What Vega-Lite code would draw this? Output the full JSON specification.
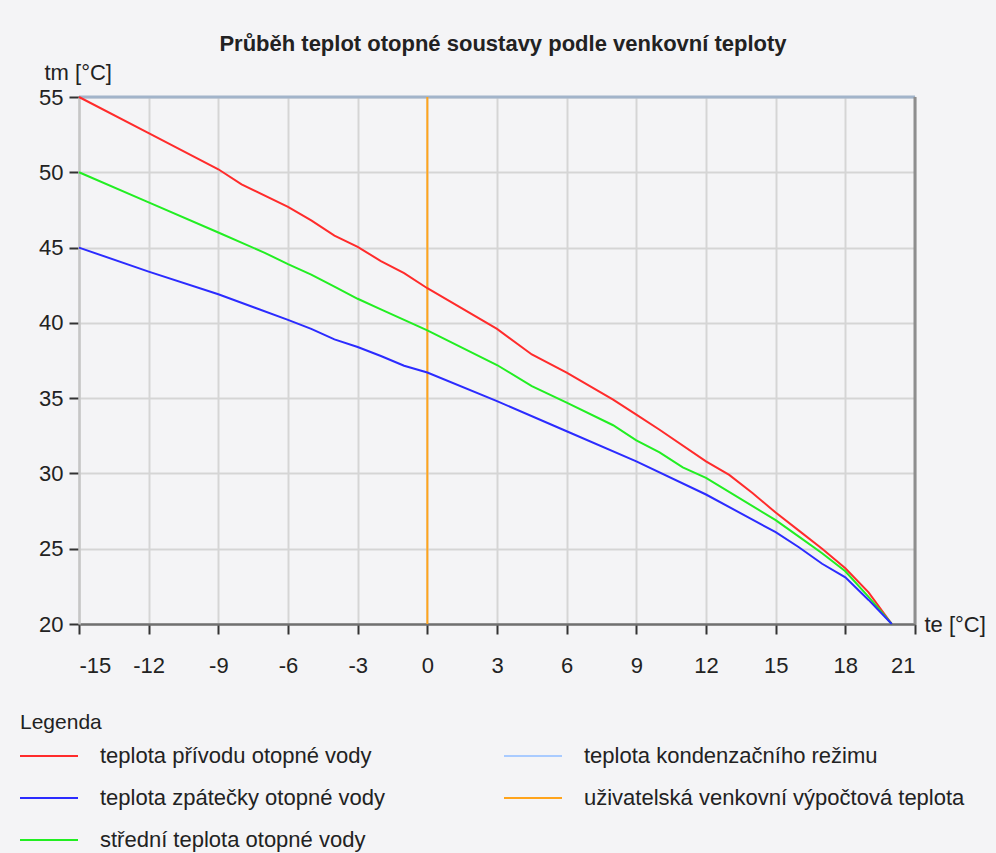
{
  "$schema": "https://vega.github.io/schema/vega-lite/v6.json",
  "width": 836,
  "height": 527,
  "autosize": {"type": "none"},
  "padding": {"left": 79, "top": 97, "right": 81, "bottom": 229},
  "background": "#f4f4f6",
  "title": {
    "text": "Průběh teplot otopné soustavy podle venkovní teploty",
    "font": "Liberation Sans",
    "fontSize": 22,
    "fontWeight": "bold",
    "color": "#222222",
    "anchor": "middle",
    "dx": 6,
    "offset": 5
  },
  "config": {
    "view": {"stroke": null},
    "axis": {
      "grid": true,
      "labelFont": "Liberation Sans",
      "labelFontSize": 22,
      "labelColor": "#222222",
      "titleFont": "Liberation Sans",
      "titleFontSize": 22,
      "titleFontWeight": "normal",
      "titleColor": "#222222",
      "gridColor": "#d5d5d5",
      "gridWidth": 2,
      "tickColor": "#333333",
      "tickWidth": 2,
      "tickSize": 10
    }
  },
  "layer": [
    {
      "data": {"values": [{"b": "top"}]},
      "mark": {"type": "rule", "color": "#a2b4ca", "strokeWidth": 3},
      "encoding": {"y": {"datum": 55, "type": "quantitative"}}
    },
    {
      "data": {"values": [{"b": "right"}]},
      "mark": {"type": "rule", "color": "#8e8e8e", "strokeWidth": 3},
      "encoding": {"x": {"datum": 21, "type": "quantitative"}}
    },
    {
      "data": {"values": [{"te": 0, "s": "uživatelská venkovní výpočtová teplota"}]},
      "mark": {"type": "rule", "strokeWidth": 2},
      "encoding": {
        "x": {"field": "te", "type": "quantitative"},
        "color": {"field": "s", "type": "nominal"}
      }
    },
    {
      "data": {
        "values": [
          {"s": "teplota přívodu otopné vody", "te": -15, "tm": 55},
          {"s": "teplota přívodu otopné vody", "te": -12, "tm": 52.6},
          {"s": "teplota přívodu otopné vody", "te": -9, "tm": 50.2},
          {"s": "teplota přívodu otopné vody", "te": -8, "tm": 49.2},
          {"s": "teplota přívodu otopné vody", "te": -6, "tm": 47.7},
          {"s": "teplota přívodu otopné vody", "te": -5, "tm": 46.8},
          {"s": "teplota přívodu otopné vody", "te": -4, "tm": 45.8},
          {"s": "teplota přívodu otopné vody", "te": -3, "tm": 45.05},
          {"s": "teplota přívodu otopné vody", "te": -2, "tm": 44.1},
          {"s": "teplota přívodu otopné vody", "te": -1, "tm": 43.3},
          {"s": "teplota přívodu otopné vody", "te": 0, "tm": 42.3},
          {"s": "teplota přívodu otopné vody", "te": 3, "tm": 39.6},
          {"s": "teplota přívodu otopné vody", "te": 4.5, "tm": 37.9},
          {"s": "teplota přívodu otopné vody", "te": 6, "tm": 36.7},
          {"s": "teplota přívodu otopné vody", "te": 8, "tm": 34.9},
          {"s": "teplota přívodu otopné vody", "te": 9, "tm": 33.9},
          {"s": "teplota přívodu otopné vody", "te": 10, "tm": 32.9},
          {"s": "teplota přívodu otopné vody", "te": 12, "tm": 30.8},
          {"s": "teplota přívodu otopné vody", "te": 13, "tm": 29.9},
          {"s": "teplota přívodu otopné vody", "te": 14, "tm": 28.7},
          {"s": "teplota přívodu otopné vody", "te": 15, "tm": 27.4},
          {"s": "teplota přívodu otopné vody", "te": 16, "tm": 26.2},
          {"s": "teplota přívodu otopné vody", "te": 17, "tm": 25.0},
          {"s": "teplota přívodu otopné vody", "te": 18, "tm": 23.7},
          {"s": "teplota přívodu otopné vody", "te": 19, "tm": 22.1},
          {"s": "teplota přívodu otopné vody", "te": 20, "tm": 20},
          {"s": "střední teplota otopné vody", "te": -15, "tm": 50},
          {"s": "střední teplota otopné vody", "te": -12, "tm": 48.0},
          {"s": "střední teplota otopné vody", "te": -9, "tm": 46.0},
          {"s": "střední teplota otopné vody", "te": -7, "tm": 44.65},
          {"s": "střední teplota otopné vody", "te": -6, "tm": 43.9},
          {"s": "střední teplota otopné vody", "te": -5, "tm": 43.2},
          {"s": "střední teplota otopné vody", "te": -4, "tm": 42.4},
          {"s": "střední teplota otopné vody", "te": -3, "tm": 41.6},
          {"s": "střední teplota otopné vody", "te": -2, "tm": 40.9},
          {"s": "střední teplota otopné vody", "te": -1, "tm": 40.2},
          {"s": "střední teplota otopné vody", "te": 0, "tm": 39.5},
          {"s": "střední teplota otopné vody", "te": 3, "tm": 37.2},
          {"s": "střední teplota otopné vody", "te": 4.5, "tm": 35.8},
          {"s": "střední teplota otopné vody", "te": 6, "tm": 34.7},
          {"s": "střední teplota otopné vody", "te": 8, "tm": 33.2},
          {"s": "střední teplota otopné vody", "te": 9, "tm": 32.2},
          {"s": "střední teplota otopné vody", "te": 10, "tm": 31.4},
          {"s": "střední teplota otopné vody", "te": 11, "tm": 30.4},
          {"s": "střední teplota otopné vody", "te": 12, "tm": 29.7},
          {"s": "střední teplota otopné vody", "te": 15, "tm": 26.9},
          {"s": "střední teplota otopné vody", "te": 16, "tm": 25.8},
          {"s": "střední teplota otopné vody", "te": 17, "tm": 24.7},
          {"s": "střední teplota otopné vody", "te": 18, "tm": 23.5},
          {"s": "střední teplota otopné vody", "te": 19, "tm": 21.8},
          {"s": "střední teplota otopné vody", "te": 20, "tm": 20},
          {"s": "teplota zpátečky otopné vody", "te": -15, "tm": 45},
          {"s": "teplota zpátečky otopné vody", "te": -12, "tm": 43.4},
          {"s": "teplota zpátečky otopné vody", "te": -9, "tm": 41.9},
          {"s": "teplota zpátečky otopné vody", "te": -6, "tm": 40.2},
          {"s": "teplota zpátečky otopné vody", "te": -5, "tm": 39.6},
          {"s": "teplota zpátečky otopné vody", "te": -4, "tm": 38.9},
          {"s": "teplota zpátečky otopné vody", "te": -3, "tm": 38.4},
          {"s": "teplota zpátečky otopné vody", "te": -2, "tm": 37.8},
          {"s": "teplota zpátečky otopné vody", "te": -1, "tm": 37.15},
          {"s": "teplota zpátečky otopné vody", "te": 0, "tm": 36.7},
          {"s": "teplota zpátečky otopné vody", "te": 3, "tm": 34.8},
          {"s": "teplota zpátečky otopné vody", "te": 6, "tm": 32.8},
          {"s": "teplota zpátečky otopné vody", "te": 9, "tm": 30.8},
          {"s": "teplota zpátečky otopné vody", "te": 12, "tm": 28.6},
          {"s": "teplota zpátečky otopné vody", "te": 15, "tm": 26.1},
          {"s": "teplota zpátečky otopné vody", "te": 16, "tm": 25.1},
          {"s": "teplota zpátečky otopné vody", "te": 17, "tm": 24.0},
          {"s": "teplota zpátečky otopné vody", "te": 18, "tm": 23.1},
          {"s": "teplota zpátečky otopné vody", "te": 19, "tm": 21.6},
          {"s": "teplota zpátečky otopné vody", "te": 20, "tm": 20}
        ]
      },
      "mark": {"type": "line", "strokeWidth": 2},
      "encoding": {
        "x": {
          "field": "te",
          "type": "quantitative",
          "scale": {"domain": [-15, 21], "nice": false, "zero": false},
          "axis": {
            "grid": true,
            "title": "te [°C]",
            "values": [-15, -12, -9, -6, -3, 0, 3, 6, 9, 12, 15, 18, 21],
            "labelExpr": "datum.value + ''",
            "labelPadding": 21,
            "domainColor": "#707070",
            "domainWidth": 2.5,
            "titleX": 845,
            "titleY": 0,
            "titleAlign": "left",
            "titleBaseline": "middle"
          }
        },
        "y": {
          "field": "tm",
          "type": "quantitative",
          "scale": {"domain": [20, 55], "nice": false, "zero": false},
          "axis": {
            "grid": true,
            "title": "tm [°C]",
            "values": [20, 25, 30, 35, 40, 45, 50, 55],
            "labelPadding": 6,
            "domainColor": "#c6c6c6",
            "domainWidth": 2.5,
            "titleAngle": 0,
            "titleX": -35,
            "titleY": -25,
            "titleAlign": "left",
            "titleBaseline": "middle"
          }
        },
        "color": {
          "field": "s",
          "type": "nominal",
          "scale": {
            "domain": [
              "teplota přívodu otopné vody",
              "teplota zpátečky otopné vody",
              "střední teplota otopné vody",
              "teplota kondenzačního režimu",
              "uživatelská venkovní výpočtová teplota"
            ],
            "range": ["#ff2b2b", "#2b2bff", "#22ee22", "#a9cbff", "#ffa41c"]
          },
          "legend": {
            "orient": "none",
            "legendX": -59,
            "legendY": 615,
            "columns": 2,
            "title": "Legenda",
            "titleFont": "Liberation Sans",
            "titleFontSize": 21,
            "titleFontWeight": "normal",
            "titleColor": "#222222",
            "titlePadding": 2,
            "symbolType": "M-1.05,0H1.85",
            "symbolSize": 1600,
            "symbolStrokeWidth": 2,
            "labelFont": "Liberation Sans",
            "labelFontSize": 22,
            "labelColor": "#222222",
            "labelOffset": 38,
            "labelLimit": 600,
            "rowPadding": 10,
            "columnPadding": 115,
            "padding": 0
          }
        }
      }
    }
  ]
}
